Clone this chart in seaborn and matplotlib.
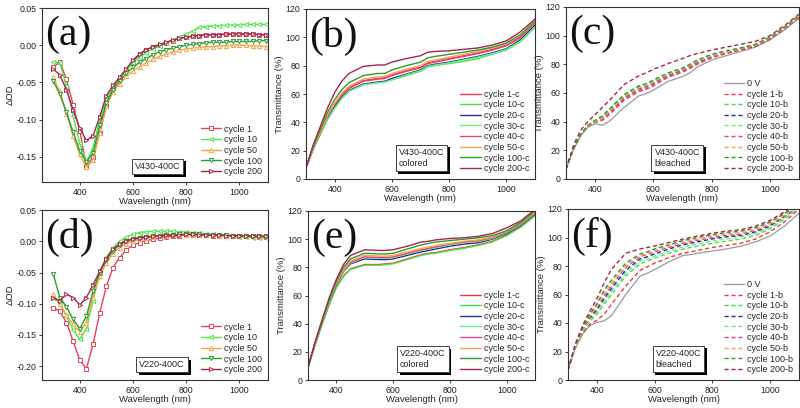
import numpy as np
import pandas as pd
import matplotlib
matplotlib.use("Agg")
import matplotlib.pyplot as plt
import matplotlib.patheffects as pe
import seaborn as sns

# ---------------- data ----------------
wl_od = [300, 325, 350, 375, 400, 425, 450, 475, 500, 525, 550, 575, 600, 625, 650, 675, 700,
         725, 750, 775, 800, 825, 850, 875, 900, 925, 950, 975, 1000, 1025, 1050, 1075, 1100]

a_cycle1 = [-0.030, -0.022, -0.046, -0.080, -0.115, -0.163, -0.150, -0.118, -0.082, -0.057, -0.045, -0.033, -0.022,
            -0.012, -0.006, -0.003, 0.000, 0.003, 0.006, 0.009, 0.011, 0.012, 0.013, 0.014, 0.014, 0.014, 0.015,
            0.015, 0.015, 0.015, 0.015, 0.014, 0.014]
a_cycle10 = [-0.022, -0.024, -0.055, -0.095, -0.132, -0.157, -0.138, -0.100, -0.072, -0.056, -0.043, -0.033, -0.024,
             -0.016, -0.010, -0.005, -0.001, 0.003, 0.007, 0.011, 0.015, 0.019, 0.024, 0.025, 0.026, 0.026, 0.027,
             0.027, 0.027, 0.028, 0.028, 0.028, 0.028]
a_cycle50 = [-0.043, -0.062, -0.092, -0.122, -0.147, -0.164, -0.155, -0.118, -0.082, -0.063, -0.052, -0.042, -0.035,
             -0.029, -0.024, -0.019, -0.015, -0.012, -0.009, -0.007, -0.005, -0.004, -0.003, -0.002, -0.002, -0.001,
             -0.001, 0.000, 0.000, 0.000, -0.001, -0.001, -0.002]
a_cycle100 = [-0.048, -0.066, -0.090, -0.117, -0.142, -0.157, -0.145, -0.108, -0.078, -0.060, -0.048, -0.038, -0.030,
              -0.023, -0.018, -0.013, -0.009, -0.006, -0.004, -0.002, 0.000, 0.001, 0.002, 0.003, 0.004, 0.004, 0.004,
              0.005, 0.005, 0.005, 0.005, 0.006, 0.006]
a_cycle200 = [-0.032, -0.040, -0.060, -0.087, -0.112, -0.128, -0.122, -0.096, -0.068, -0.054, -0.043, -0.032, -0.020,
              -0.012, -0.006, -0.002, 0.001, 0.004, 0.007, 0.009, 0.011, 0.012, 0.013, 0.014, 0.014, 0.014, 0.015,
              0.015, 0.015, 0.015, 0.015, 0.014, 0.014]

d_cycle1 = [-0.106, -0.112, -0.130, -0.160, -0.190, -0.204, -0.165, -0.115, -0.072, -0.042, -0.026, -0.014, -0.006,
            -0.002, 0.001, 0.003, 0.005, 0.007, 0.008, 0.009, 0.010, 0.010, 0.010, 0.010, 0.009, 0.009, 0.009,
            0.008, 0.008, 0.008, 0.008, 0.007, 0.007]
d_cycle10 = [-0.090, -0.100, -0.120, -0.142, -0.157, -0.140, -0.095, -0.050, -0.025, -0.010, 0.000, 0.007, 0.011,
             0.014, 0.015, 0.016, 0.016, 0.016, 0.016, 0.015, 0.015, 0.014, 0.013, 0.012, 0.011, 0.010, 0.009,
             0.008, 0.007, 0.007, 0.006, 0.006, 0.005]
d_cycle50 = [-0.085, -0.100, -0.118, -0.133, -0.145, -0.130, -0.090, -0.056, -0.035, -0.020, -0.010, -0.004, 0.000,
             0.003, 0.005, 0.007, 0.008, 0.009, 0.010, 0.010, 0.010, 0.010, 0.010, 0.010, 0.010, 0.009, 0.009,
             0.008, 0.008, 0.008, 0.008, 0.008, 0.008]
d_cycle100 = [-0.052, -0.090, -0.105, -0.125, -0.140, -0.120, -0.080, -0.050, -0.030, -0.015, -0.006, 0.000, 0.003,
              0.005, 0.007, 0.008, 0.009, 0.010, 0.010, 0.011, 0.011, 0.011, 0.011, 0.010, 0.010, 0.010, 0.010,
              0.009, 0.009, 0.009, 0.008, 0.008, 0.008]
d_cycle200 = [-0.090, -0.095, -0.085, -0.090, -0.102, -0.090, -0.070, -0.048, -0.028, -0.013, -0.004, 0.001, 0.004,
              0.006, 0.007, 0.008, 0.009, 0.010, 0.010, 0.010, 0.011, 0.011, 0.010, 0.010, 0.010, 0.010, 0.009,
              0.009, 0.009, 0.009, 0.008, 0.008, 0.008]

wl_t = [300, 325, 350, 375, 400, 425, 450, 500, 550, 575, 600, 650, 700, 725, 750, 800, 850, 900, 950, 1000, 1050, 1100]

b_1c = [8, 22, 33, 44, 52, 59, 64, 69, 70.5, 71, 73, 76, 78.5, 81.5, 82.5, 84.5, 86.5, 88.5, 91, 94, 100, 110]
b_10c = [8, 21, 32, 42, 50, 57, 62, 66.5, 68, 68.5, 70, 73, 76, 79, 80, 81.5, 83, 85, 88, 91, 97, 107]
b_20c = [8, 21, 32, 42.5, 51, 57.5, 62.5, 67, 68.5, 69, 71, 74, 77, 80, 81, 82.5, 84.5, 86.5, 89, 92, 98.5, 108.5]
b_30c = [8, 21, 32, 42, 50, 57, 62, 66.5, 68, 68.5, 70, 73.5, 76.5, 79.5, 80.5, 82, 84, 86, 88.5, 91.5, 97.5, 107.5]
b_40c = [8, 22, 33, 44, 52.5, 59.5, 64.5, 69.5, 71, 71.5, 73.5, 76.5, 79, 82, 83, 85, 87, 89, 91.5, 94.5, 100.5, 110.5]
b_50c = [8, 22, 33.5, 45, 53.5, 60.5, 65.5, 70.5, 72, 72.5, 74.5, 77.5, 80, 83, 84, 86, 88, 90, 92.5, 95.5, 101.5, 111]
b_100c = [8, 23, 35, 47, 56, 63, 68, 73, 74.5, 74.5, 77, 80, 82.5, 85.5, 86.5, 88, 89.5, 91, 93, 96, 102, 111.5]
b_200c = [8, 24, 37, 50, 61, 69, 74.5, 79.5, 80.5, 80.5, 82.5, 85, 87, 89.5, 90, 90.5, 91.5, 92.5, 94.5, 97.5, 104, 113]

c_0v = [7, 20, 30, 36, 38.5, 37.5, 40.5, 50, 58, 59.5, 62, 68, 71.5, 74, 78, 83, 86, 89, 92, 97, 104, 112]
c_1b = [7, 21, 31, 37, 39.5, 41, 45, 55, 61, 62.5, 65, 71, 74.5, 77, 80, 84.5, 87.5, 90, 92.5, 97.5, 105, 113]
c_10b = [7, 21, 31, 37, 40.5, 43, 48, 58, 64, 65.5, 68, 73, 76.5, 79, 82, 86, 88.5, 91, 93.5, 98.5, 105.5, 113]
c_20b = [7, 21, 31, 37, 40, 42.5, 47, 57, 63, 64.5, 67, 72.5, 76, 78.5, 81.5, 85.5, 88, 90.5, 93, 98, 105, 113]
c_30b = [7, 21, 31, 37, 40.5, 43.5, 48.5, 58.5, 64.5, 66, 68.5, 73.5, 77, 79.5, 82.5, 86.5, 89, 91, 93.5, 98.5, 105.5, 113.5]
c_40b = [7, 21, 31, 37, 39.5, 41.5, 46, 56, 62, 63.5, 66, 71.5, 75, 77.5, 80.5, 85, 88, 90.5, 93, 98, 105, 113]
c_50b = [7, 21, 31, 37, 40, 42.5, 47.5, 57.5, 63.5, 65, 67.5, 73, 76.5, 79, 82, 86, 88.5, 91, 93.5, 98.5, 105.5, 113.5]
c_100b = [7, 21, 31, 37.5, 41, 44, 49, 59, 65, 66.5, 69, 74, 77.5, 80, 83, 87, 89.5, 91.5, 94, 99, 106, 114]
c_200b = [7, 23, 34, 40, 45, 50, 55, 66, 72, 74, 76.5, 80.5, 84, 86, 87.5, 90, 92, 94, 96, 100, 107, 115]

e_1c = [9, 25, 40, 54, 66, 74, 79, 82, 82, 82.5, 83, 86, 89, 90, 90.5, 92.5, 94, 96, 98.5, 103, 109, 117]
e_10c = [9, 25, 39.5, 53.5, 65.5, 73.5, 78.5, 81.5, 81.5, 82, 82.5, 85.5, 88.5, 89.5, 90, 92, 93.5, 95.5, 98, 102.5, 108.5, 116.5]
e_20c = [9, 26, 41, 56, 68, 77, 82.5, 86, 85.5, 85.5, 86, 88.5, 91, 92, 93, 95, 96.5, 97.5, 100, 104, 110, 118]
e_30c = [9, 26, 41, 56, 68.5, 77.5, 83, 87, 86.5, 86.5, 87, 89.5, 92, 93, 94, 96, 97.5, 98.5, 100.5, 104.5, 110.5, 118.5]
e_40c = [9, 26, 41.5, 56.5, 69, 78, 83.5, 87.5, 87, 87, 87.5, 90, 92.5, 93.5, 94.5, 96.5, 98, 99, 101, 105, 111, 119]
e_50c = [9, 26, 41.5, 57, 69.5, 78.5, 84.5, 88.5, 88, 88, 88.5, 91, 93.5, 94.5, 95.5, 97, 98.5, 99.5, 101.5, 105.5, 111.5, 119]
e_100c = [9, 26.5, 42, 57.5, 70.5, 80, 86, 90, 89.5, 89.5, 90, 93, 96, 97, 98, 99, 100, 101, 102.5, 106, 112, 120]
e_200c = [9, 27, 43, 58.5, 71.5, 82, 88.5, 92.5, 92, 92, 92.5, 95, 98, 98.5, 99.5, 100.5, 101, 102, 104, 108, 113, 121]

f_0v = [7, 22, 32, 38, 40.5, 41.5, 45, 60, 73, 75, 77.5, 83, 87.5, 88, 89, 90.5, 92, 94, 97, 101, 108, 117]
f_1b = [7, 23, 33, 39, 42, 46, 53, 66, 77, 79.5, 82, 86, 89, 90, 91, 93, 94.5, 96, 99, 104, 111, 120]
f_10b = [7, 23, 34, 41, 46, 53, 60, 73, 81.5, 83.5, 85.5, 89, 92, 93, 94, 96, 97.5, 99, 101.5, 106, 113, 121]
f_20b = [7, 24, 35, 43, 49, 57, 64, 77, 85, 86.5, 88.5, 92, 95, 96, 97, 99, 100.5, 101.5, 104, 108, 114.5, 122]
f_30b = [7, 23, 34.5, 42, 47.5, 55, 62, 75, 83.5, 85, 87, 90.5, 93.5, 94.5, 95.5, 97.5, 99, 100.5, 103, 107, 114, 121.5]
f_40b = [7, 24, 35.5, 44, 50.5, 59, 66, 79, 86.5, 88, 90, 93, 96, 97, 98, 100, 101.5, 102.5, 105, 109, 115, 122]
f_50b = [7, 24, 36, 45, 52, 61, 68, 80.5, 87.5, 89, 91, 94, 97, 98, 99, 101, 102.5, 103.5, 106, 110, 116, 122.5]
f_100b = [7, 24.5, 36.5, 46, 53.5, 63, 70, 82, 88.5, 90, 92, 95, 98, 99, 100, 102, 103.5, 104.5, 107, 111, 117, 123]
f_200b = [7, 25, 38, 48, 57, 68, 77.5, 89, 92, 93, 94, 96.5, 99, 100, 101, 103, 104.5, 105.5, 108, 112, 118, 124]

od_labels = ["cycle 1", "cycle 10", "cycle 50", "cycle 100", "cycle 200"]
col_labels = ["cycle 1-c", "cycle 10-c", "cycle 20-c", "cycle 30-c", "cycle 40-c", "cycle 50-c", "cycle 100-c", "cycle 200-c"]
bl_labels = ["0 V", "cycle 1-b", "cycle 10-b", "cycle 20-b", "cycle 30-b", "cycle 40-b", "cycle 50-b", "cycle 100-b", "cycle 200-b"]

# ---------------- style ----------------
sns.set_theme(style="ticks")
plt.rcParams["font.family"] = ["Liberation Sans", "DejaVu Sans"]
plt.rcParams["axes.linewidth"] = 0.8

od_colors = ["#e2435a", "#4fe54f", "#f3a447", "#2f9a32", "#a3264a"]
od_markers = ["s", "<", "^", "v", ">"]
t_colors = ["#e83a48", "#47e247", "#2b2b8c", "#66ee88", "#e2468a", "#f4a849", "#2f9a32", "#a0284e"]
gray = "#9a9a9a"

fig = plt.figure(figsize=(8.0, 4.08), dpi=100)
W, H = 800.0, 408.0


def make_ax(l, t, r, b):
    return fig.add_axes([l / W, 1 - b / H, (r - l) / W, (b - t) / H])


def style_ax(ax, letter, ylabel):
    for s in ax.spines.values():
        s.set_visible(True)
        s.set_color("#333333")
        s.set_linewidth(0.8)
    ax.tick_params(axis="both", labelsize=6.3, length=2.5, width=0.6, pad=1.5, colors="#222222")
    ax.set_xlabel("Wavelength (nm)", fontsize=6.8, labelpad=0)
    ax.set_ylabel(ylabel, fontsize=6.8, labelpad=1)
    ax.set_xticks([400, 600, 800, 1000])
    ax.text(0.012, 0.955, letter, transform=ax.transAxes, ha="left", va="top",
            fontsize=30, family=["Liberation Serif", "DejaVu Serif"], color="#111111")


def tag(ax, x, y, txt):
    t = ax.text(x, y, txt, transform=ax.transAxes, ha="left", va="bottom", fontsize=6.5,
                linespacing=1.3,
                bbox=dict(boxstyle="square,pad=0.35", facecolor="white", edgecolor="#444444", linewidth=0.7))
    t.get_bbox_patch().set_path_effects([pe.withSimplePatchShadow(offset=(2, -2), shadow_rgbFace="black", alpha=1.0),
                                         pe.Normal()])


def legend(ax, **kw):
    leg = ax.legend(loc="lower right", frameon=False, fontsize=6.5, handlelength=2.3,
                    labelspacing=0.18, borderaxespad=0.25, handletextpad=0.3, **kw)
    return leg


# ---------- (a) and (d) ----------
for (l, t, r, b), series, letter, name in [
    ((42, 8, 268, 182), [a_cycle1, a_cycle10, a_cycle50, a_cycle100, a_cycle200], "(a)", "V430-400C"),
    ((42, 210, 268, 380), [d_cycle1, d_cycle10, d_cycle50, d_cycle100, d_cycle200], "(d)", "V220-400C"),
]:
    ax = make_ax(l, t, r, b)
    for vals, lab, c, m in zip(series, od_labels, od_colors, od_markers):
        df = pd.DataFrame({"wl": wl_od, "v": vals})
        sns.lineplot(data=df, x="wl", y="v", ax=ax, color=c, label=lab, linewidth=1.0,
                     marker=m, markersize=3.0, markerfacecolor="white", markeredgecolor=c,
                     markeredgewidth=0.7)
    ax.set_xlim(258, 1108)
    if letter == "(a)":
        ax.set_ylim(-0.184, 0.05)
        ax.set_yticks([0.05, 0.0, -0.05, -0.10, -0.15])
        tag(ax, 0.41, 0.065, name)
    else:
        ax.set_ylim(-0.222, 0.05)
        ax.set_yticks([0.05, 0.0, -0.05, -0.10, -0.15, -0.20])
        tag(ax, 0.43, 0.065, name)
    ax.yaxis.set_major_formatter(matplotlib.ticker.FormatStrFormatter("%.2f"))
    style_ax(ax, letter, "ΔOD")
    legend(ax)

# ---------- (b) and (e) colored ----------
for (l, t, r, b), series, letter, name in [
    ((306, 9, 535, 179), [b_1c, b_10c, b_20c, b_30c, b_40c, b_50c, b_100c, b_200c], "(b)", "V430-400C\ncolored"),
    ((308, 211, 535, 380), [e_1c, e_10c, e_20c, e_30c, e_40c, e_50c, e_100c, e_200c], "(e)", "V220-400C\ncolored"),
]:
    ax = make_ax(l, t, r, b)
    for vals, lab, c in zip(series, col_labels, t_colors):
        df = pd.DataFrame({"wl": wl_t, "v": vals})
        sns.lineplot(data=df, x="wl", y="v", ax=ax, color=c, label=lab, linewidth=1.0)
    ax.set_xlim(300, 1100)
    ax.set_ylim(0, 120)
    ax.set_yticks([0, 20, 40, 60, 80, 100, 120])
    style_ax(ax, letter, "Transmittance (%)")
    tag(ax, 0.405, 0.065, name)
    legend(ax)

# ---------- (c) and (f) bleached ----------
for (l, t, r, b), base, series, letter, name in [
    ((566, 7, 799, 179), c_0v, [c_1b, c_10b, c_20b, c_30b, c_40b, c_50b, c_100b, c_200b], "(c)", "V430-400C\nbleached"),
    ((568, 209, 799, 380), f_0v, [f_1b, f_10b, f_20b, f_30b, f_40b, f_50b, f_100b, f_200b], "(f)", "V220-400C\nbleached"),
]:
    ax = make_ax(l, t, r, b)
    df0 = pd.DataFrame({"wl": wl_t, "v": base})
    sns.lineplot(data=df0, x="wl", y="v", ax=ax, color=gray, label=bl_labels[0], linewidth=0.9)
    for vals, lab, c in zip(series, bl_labels[1:], t_colors):
        df = pd.DataFrame({"wl": wl_t, "v": vals})
        sns.lineplot(data=df, x="wl", y="v", ax=ax, color=c, label=lab, linewidth=1.0,
                     linestyle=(0, (3, 2)))
    ax.set_xlim(300, 1100)
    ax.set_ylim(0, 120)
    ax.set_yticks([0, 20, 40, 60, 80, 100, 120])
    style_ax(ax, letter, "Transmittance (%)")
    tag(ax, 0.38, 0.065, name)
    legend(ax)

fig.savefig("out.png", dpi=100, facecolor="white")
